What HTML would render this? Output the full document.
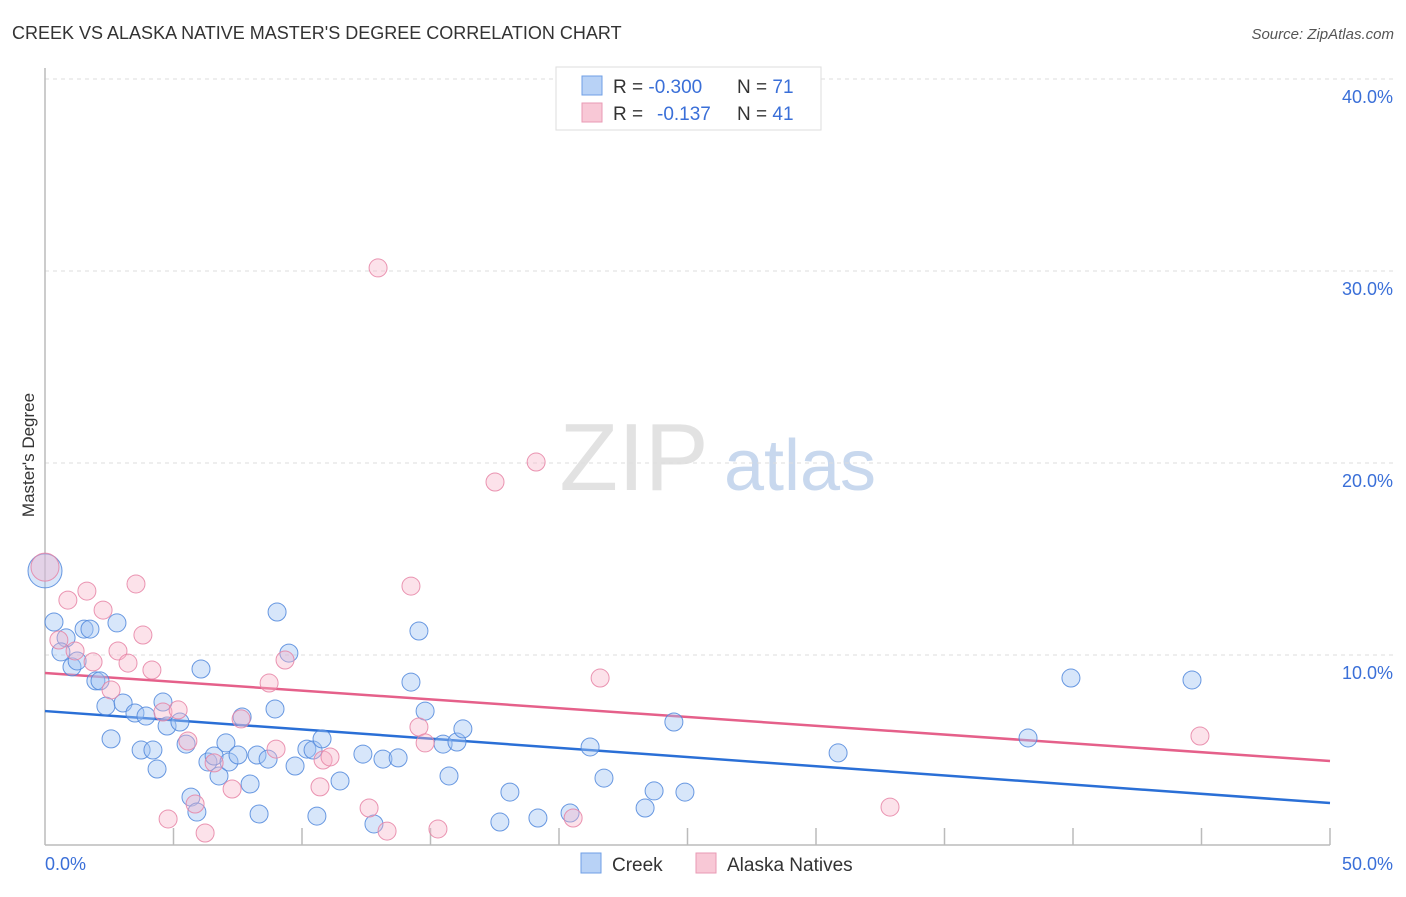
<!DOCTYPE html>
<html><head><meta charset="utf-8"><style>
body{margin:0;background:#fff;font-family:"Liberation Sans",sans-serif}
svg text{font-family:"Liberation Sans",sans-serif}
</style></head><body>
<svg id="chart" width="1406" height="892" viewBox="0 0 1406 892" xmlns="http://www.w3.org/2000/svg">
<text x="12" y="39" font-size="18" fill="#333">CREEK VS ALASKA NATIVE MASTER'S DEGREE CORRELATION CHART</text>
<text x="1394" y="39" font-size="15" font-style="italic" fill="#555" text-anchor="end">Source: ZipAtlas.com</text>
<text x="634" y="490" font-size="96" font-family="Liberation Serif" fill="#e2e2e2" text-anchor="middle">ZIP</text>
<text x="800" y="490" font-size="72" fill="#c8d8ee" text-anchor="middle">atlas</text>
<g id="grid"></g>
<g id="axes"></g>
<g id="trend"></g>
<g id="points"></g>
<text transform="translate(34,455) rotate(-90)" font-size="17" fill="#333" text-anchor="middle">Master's Degree</text>
<text x="45" y="870" font-size="18" fill="#3a6fd8">0.0%</text>
<text x="1393" y="870" font-size="18" fill="#3a6fd8" text-anchor="end">50.0%</text>
<g>
<rect x="556" y="67" width="265" height="63" fill="#fff" stroke="#ddd"/>
<rect x="582" y="76" width="20" height="19" fill="#b8d2f6" stroke="#6f9fe6"/>
<rect x="582" y="103" width="20" height="19" fill="#f8c8d6" stroke="#e99ab4"/>
<text x="613" y="93" font-size="19" fill="#333">R = <tspan fill="#3a6fd8">-0.300</tspan><tspan x="737">N = </tspan><tspan fill="#3a6fd8">71</tspan></text>
<text x="613" y="120" font-size="19" fill="#333">R = <tspan x="657" fill="#3a6fd8">-0.137</tspan><tspan x="737">N = </tspan><tspan fill="#3a6fd8">41</tspan></text>
</g>
<g>
<rect x="581" y="853" width="20" height="20" fill="#b8d2f6" stroke="#6f9fe6"/>
<text x="612" y="871" font-size="19" fill="#333">Creek</text>
<rect x="696" y="853" width="20" height="20" fill="#f8c8d6" stroke="#e99ab4"/>
<text x="727" y="871" font-size="19" fill="#333">Alaska Natives</text>
</g>
</svg>
<script>
const yTicks=[10,20,30,40];
const yTickLabels=["10.0%","20.0%","30.0%","40.0%"];
const xTicks=[5,10,15,20,25,30,35,40,45,50];
const creekX=[0.35,0.82,0.62,1.05,1.25,1.52,1.75,1.98,2.14,2.37,2.57,2.80,3.04,3.50,3.74,3.93,4.20,4.36,4.59,4.75,5.25,5.49,5.68,5.91,6.07,6.34,6.58,6.77,7.04,7.16,7.51,7.67,7.98,8.25,8.33,8.68,8.95,9.03,9.49,9.73,10.19,10.43,10.58,10.78,11.48,12.37,12.80,13.15,13.74,14.24,14.55,14.79,15.49,15.72,16.03,16.26,17.70,18.09,19.18,20.43,21.21,21.75,23.35,23.70,24.47,24.90,30.86,38.25,39.92,44.63,0];
const creekY=[11.72,10.89,10.16,9.38,9.69,11.35,11.35,8.65,8.65,7.34,5.63,11.67,7.5,6.98,5.05,6.82,5.05,4.06,7.55,6.30,6.51,5.36,2.60,1.82,9.27,4.43,4.74,3.70,5.42,4.43,4.79,6.77,3.28,4.79,1.72,4.58,7.19,12.24,10.10,4.22,5.10,5.05,1.61,5.63,3.44,4.84,1.20,4.58,4.64,8.59,11.25,7.08,5.36,3.70,5.47,6.15,1.30,2.86,1.51,1.77,5.21,3.59,2.03,2.92,6.51,2.86,4.90,5.68,8.80,8.70,14.38];
const alaskaX=[0,0.89,1.63,2.26,3.54,0.54,1.17,1.87,2.57,2.84,3.23,3.81,4.16,4.59,4.79,5.18,5.56,5.84,6.23,6.58,7.28,7.63,8.72,8.99,9.34,10.70,10.82,11.09,12.61,12.96,13.31,14.24,14.55,14.79,15.29,17.51,19.11,20.55,21.60,32.88,44.94];
const alaskaY=[14.58,12.86,13.33,12.34,13.70,10.78,10.21,9.64,8.18,10.21,9.58,11.04,9.22,7.03,1.46,7.14,5.52,2.24,0.73,4.38,3.02,6.67,8.54,5.10,9.74,3.13,4.53,4.69,2.03,30.16,0.83,13.59,6.25,5.42,0.94,19.01,20.05,1.51,8.80,2.08,5.78];
const creekTrend=[7.08,2.29];
const alaskaTrend=[9.06,4.48];
const NS="http://www.w3.org/2000/svg";
const X=v=>45+v/50*1285;
const Y=v=>847-v*19.2;
function mk(tag,attrs,parent){const e=document.createElementNS(NS,tag);for(const k in attrs)e.setAttribute(k,attrs[k]);parent.appendChild(e);return e;}
const grid=document.getElementById('grid'),axes=document.getElementById('axes'),trend=document.getElementById('trend'),pts=document.getElementById('points');
yTicks.forEach((t,i)=>{
 const l=mk('line',{x1:45,x2:1393,y1:Y(t),y2:Y(t),stroke:'#ddd','stroke-dasharray':'4,4'},grid);
 
 
 const tx=mk('text',{x:1393,y:Y(t)+24,'font-size':18,fill:'#3a6fd8','text-anchor':'end'},grid);
 tx.textContent=yTickLabels[i];
 
 
});
const ya=mk('line',{x1:45,x2:45,y1:68,y2:845,stroke:'#bbb','stroke-width':1.5},axes);


const xa=mk('line',{x1:45,x2:1330,y1:845,y2:845,stroke:'#bbb','stroke-width':1.5},axes);


xTicks.forEach(t=>{
 const l=mk('line',{x1:X(t),x2:X(t),y1:828,y2:845,stroke:'#bbb','stroke-width':1.5},axes);
 
 
});
const tb=mk('line',{x1:X(0),y1:Y(creekTrend[0]),x2:X(50),y2:Y(creekTrend[1]),stroke:'#2a6fd6','stroke-width':2.5},trend);


const tp=mk('line',{x1:X(0),y1:Y(alaskaTrend[0]),x2:X(50),y2:Y(alaskaTrend[1]),stroke:'#e5608a','stroke-width':2.5},trend);


function draw(xs,ys,fill,stroke,name,bigR){
 xs.forEach((x,i)=>{
  const big=(x===0);
  const c=mk('circle',{cx:X(x),cy:Y(ys[i]),r:big?bigR:9,fill:fill,stroke:stroke,'stroke-width':1},pts);
  
  
 });
}
draw(creekX,creekY,'rgba(160,196,242,0.42)','rgba(80,135,220,0.85)','creek-point',17);
draw(alaskaX,alaskaY,'rgba(246,180,200,0.38)','rgba(230,130,165,0.85)','alaska-natives-point',14);
</script>
</body></html>
